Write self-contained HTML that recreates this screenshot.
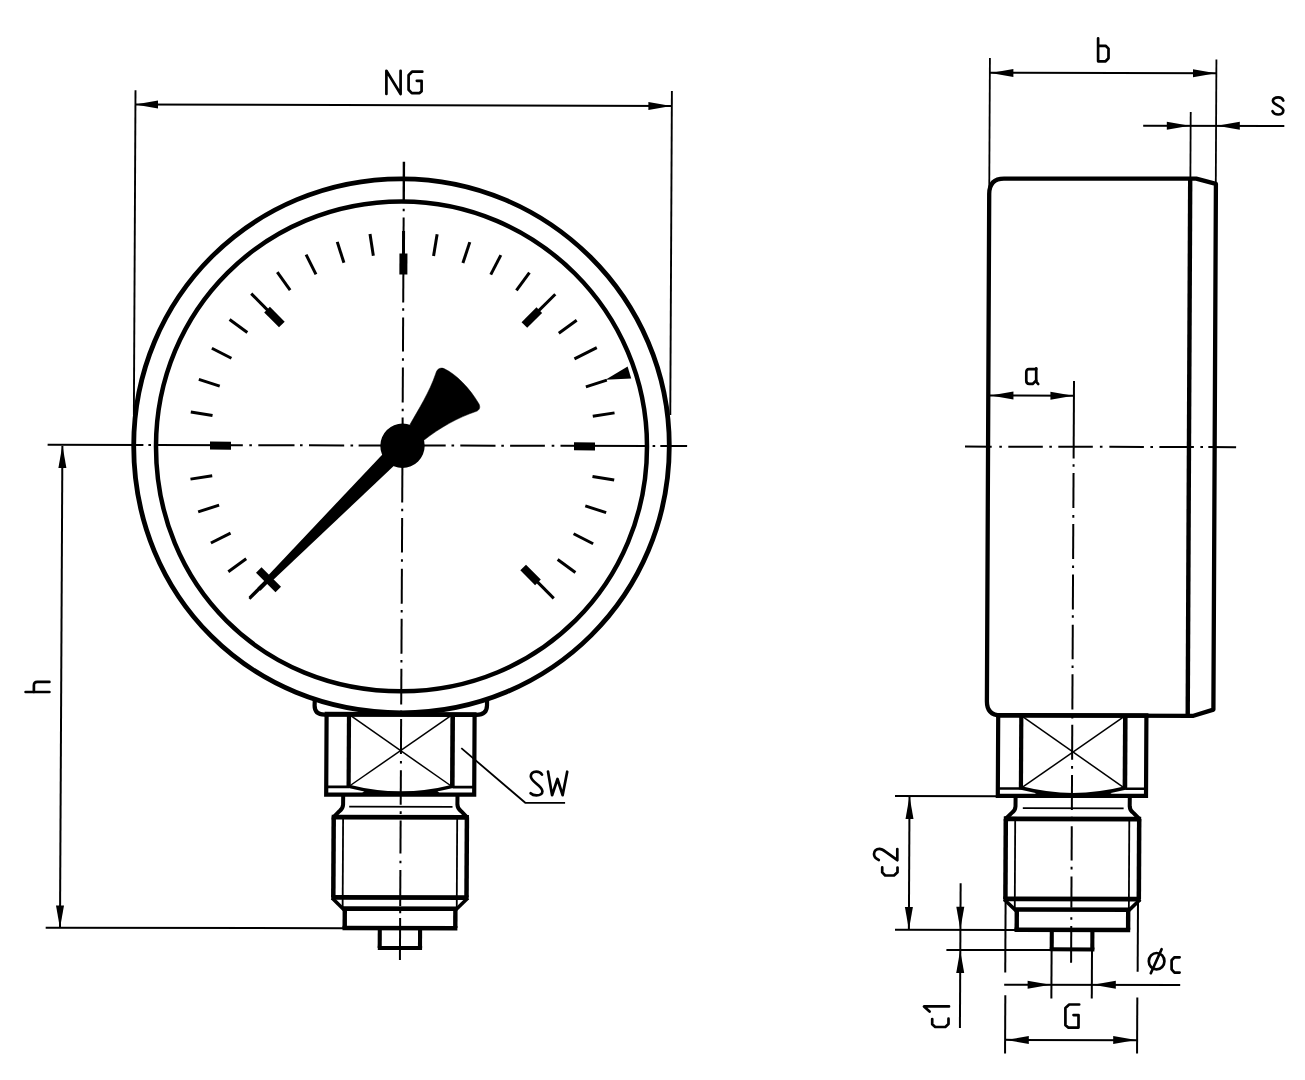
<!DOCTYPE html>
<html><head><meta charset="utf-8"><title>Pressure gauge dimensions</title>
<style>
html,body{margin:0;padding:0;background:#fff;}
body{width:1305px;height:1080px;overflow:hidden;font-family:"Liberation Sans",sans-serif;}
svg{display:block;}
</style></head><body>
<svg width="1305" height="1080" viewBox="0 0 1305 1080">
<rect width="1305" height="1080" fill="#fff"/>
<g transform="matrix(1 0.0020 -0.0050 1 2.230 -0.805)" stroke="#000" fill="none">
<path d="M 669.3,445.27 C 670.04,594.05 552.06,712.5 402.83,712.8 C 251.72,713.1 134.45,597 133.7,446.34 C 132.96,297.93 251.31,179.1 400.16,178.8 C 547.31,178.51 668.57,298.56 669.3,445.27 Z" stroke-width="4.8" fill="none" stroke-linejoin="miter" stroke-linecap="butt"/>
<path d="M 647,445.91 C 647.69,582.87 540.02,691.03 402.73,691.3 C 263.55,691.58 156.7,585.73 156,446.89 C 155.32,310.69 263.74,201.78 400.28,201.5 C 535.11,201.23 646.33,311.41 647,445.91 Z" stroke-width="4.5" fill="none" stroke-linejoin="miter" stroke-linecap="butt"/>
<line x1="47.6" y1="445.5" x2="143.4" y2="445.5" stroke-width="2" stroke-linecap="butt"/>
<line x1="156.5" y1="445.5" x2="242.8" y2="445.5" stroke-width="2" stroke-linecap="butt"/>
<line x1="258.3" y1="445.5" x2="294.5" y2="445.5" stroke-width="2" stroke-linecap="butt"/>
<line x1="309" y1="445.5" x2="344.2" y2="445.5" stroke-width="2" stroke-linecap="butt"/>
<line x1="358.6" y1="445.5" x2="445.7" y2="445.5" stroke-width="2" stroke-linecap="butt"/>
<line x1="460.3" y1="445.5" x2="495.5" y2="445.5" stroke-width="2" stroke-linecap="butt"/>
<line x1="510.1" y1="445.5" x2="544.9" y2="445.5" stroke-width="2" stroke-linecap="butt"/>
<line x1="560.5" y1="445.5" x2="647" y2="445.5" stroke-width="2" stroke-linecap="butt"/>
<line x1="660.3" y1="445.5" x2="687.1" y2="445.5" stroke-width="2" stroke-linecap="butt"/>
<line x1="148.4" y1="445.5" x2="151" y2="445.5" stroke-width="2" stroke-linecap="butt"/>
<line x1="249.3" y1="445.5" x2="251.9" y2="445.5" stroke-width="2" stroke-linecap="butt"/>
<line x1="300" y1="445.5" x2="302.6" y2="445.5" stroke-width="2" stroke-linecap="butt"/>
<line x1="350.5" y1="445.5" x2="353.1" y2="445.5" stroke-width="2" stroke-linecap="butt"/>
<line x1="451.5" y1="445.5" x2="454.1" y2="445.5" stroke-width="2" stroke-linecap="butt"/>
<line x1="501.3" y1="445.5" x2="503.9" y2="445.5" stroke-width="2" stroke-linecap="butt"/>
<line x1="551.7" y1="445.5" x2="554.3" y2="445.5" stroke-width="2" stroke-linecap="butt"/>
<line x1="652.6" y1="445.5" x2="655.2" y2="445.5" stroke-width="2" stroke-linecap="butt"/>
<line x1="402.5" y1="161.8" x2="402.5" y2="202" stroke-width="2.4" stroke-linecap="butt"/>
<line x1="402.5" y1="217.5" x2="402.5" y2="302.5" stroke-width="2" stroke-linecap="butt"/>
<line x1="402.5" y1="317.5" x2="402.5" y2="351.5" stroke-width="2" stroke-linecap="butt"/>
<line x1="402.5" y1="367.5" x2="402.5" y2="402.5" stroke-width="2" stroke-linecap="butt"/>
<line x1="402.5" y1="417.5" x2="402.5" y2="502.5" stroke-width="2" stroke-linecap="butt"/>
<line x1="402.5" y1="518" x2="402.5" y2="552.5" stroke-width="2" stroke-linecap="butt"/>
<line x1="402.5" y1="568.8" x2="402.5" y2="603.8" stroke-width="2" stroke-linecap="butt"/>
<line x1="402.5" y1="618.8" x2="402.5" y2="653.8" stroke-width="2" stroke-linecap="butt"/>
<line x1="402.5" y1="668.8" x2="402.5" y2="704.5" stroke-width="2" stroke-linecap="butt"/>
<line x1="402.5" y1="719" x2="402.5" y2="754" stroke-width="2" stroke-linecap="butt"/>
<line x1="402.5" y1="770.2" x2="402.5" y2="804.8" stroke-width="2" stroke-linecap="butt"/>
<line x1="402.5" y1="820.5" x2="402.5" y2="853.5" stroke-width="2" stroke-linecap="butt"/>
<line x1="402.5" y1="870" x2="402.5" y2="906" stroke-width="2" stroke-linecap="butt"/>
<line x1="402.5" y1="918" x2="402.5" y2="960" stroke-width="2" stroke-linecap="butt"/>
<line x1="402.5" y1="208.7" x2="402.5" y2="211.3" stroke-width="2" stroke-linecap="butt"/>
<line x1="402.5" y1="308.2" x2="402.5" y2="310.8" stroke-width="2" stroke-linecap="butt"/>
<line x1="402.5" y1="358.2" x2="402.5" y2="360.8" stroke-width="2" stroke-linecap="butt"/>
<line x1="402.5" y1="408.7" x2="402.5" y2="411.3" stroke-width="2" stroke-linecap="butt"/>
<line x1="402.5" y1="508.7" x2="402.5" y2="511.3" stroke-width="2" stroke-linecap="butt"/>
<line x1="402.5" y1="559.2" x2="402.5" y2="561.8" stroke-width="2" stroke-linecap="butt"/>
<line x1="402.5" y1="610" x2="402.5" y2="612.6" stroke-width="2" stroke-linecap="butt"/>
<line x1="402.5" y1="660" x2="402.5" y2="662.6" stroke-width="2" stroke-linecap="butt"/>
<line x1="402.5" y1="710.5" x2="402.5" y2="713.1" stroke-width="2" stroke-linecap="butt"/>
<line x1="402.5" y1="761" x2="402.5" y2="763.6" stroke-width="2" stroke-linecap="butt"/>
<line x1="402.5" y1="811.3" x2="402.5" y2="813.9" stroke-width="2" stroke-linecap="butt"/>
<line x1="402.5" y1="860.7" x2="402.5" y2="863.3" stroke-width="2" stroke-linecap="butt"/>
<line x1="402.5" y1="910.7" x2="402.5" y2="913.3" stroke-width="2" stroke-linecap="butt"/>
<line x1="268.15" y1="580.35" x2="250.47" y2="598.03" stroke-width="3" stroke-linecap="butt"/>
<line x1="246.76" y1="559.15" x2="228.97" y2="572.08" stroke-width="3" stroke-linecap="butt"/>
<line x1="230.98" y1="533.39" x2="211.38" y2="543.38" stroke-width="3" stroke-linecap="butt"/>
<line x1="219.42" y1="505.49" x2="198.5" y2="512.28" stroke-width="3" stroke-linecap="butt"/>
<line x1="212.37" y1="476.11" x2="190.64" y2="479.56" stroke-width="3" stroke-linecap="butt"/>
<line x1="231" y1="446" x2="210" y2="446" stroke-width="8" stroke-linecap="butt"/>
<line x1="212.37" y1="415.89" x2="190.64" y2="412.44" stroke-width="3" stroke-linecap="butt"/>
<line x1="219.42" y1="386.51" x2="198.5" y2="379.72" stroke-width="3" stroke-linecap="butt"/>
<line x1="230.98" y1="358.61" x2="211.38" y2="348.62" stroke-width="3" stroke-linecap="butt"/>
<line x1="246.76" y1="332.85" x2="228.97" y2="319.92" stroke-width="3" stroke-linecap="butt"/>
<line x1="281.23" y1="324.73" x2="266.38" y2="309.88" stroke-width="8" stroke-linecap="butt"/>
<line x1="268.15" y1="311.65" x2="250.47" y2="293.97" stroke-width="3" stroke-linecap="butt"/>
<line x1="289.35" y1="290.26" x2="276.42" y2="272.47" stroke-width="3" stroke-linecap="butt"/>
<line x1="315.11" y1="274.48" x2="305.12" y2="254.88" stroke-width="3" stroke-linecap="butt"/>
<line x1="343.01" y1="262.92" x2="336.22" y2="242" stroke-width="3" stroke-linecap="butt"/>
<line x1="372.39" y1="255.87" x2="368.94" y2="234.14" stroke-width="3" stroke-linecap="butt"/>
<line x1="402.5" y1="274.5" x2="402.5" y2="253.5" stroke-width="8" stroke-linecap="butt"/>
<line x1="402.5" y1="256" x2="402.5" y2="231" stroke-width="3" stroke-linecap="butt"/>
<line x1="432.61" y1="255.87" x2="436.06" y2="234.14" stroke-width="3" stroke-linecap="butt"/>
<line x1="461.99" y1="262.92" x2="468.78" y2="242" stroke-width="3" stroke-linecap="butt"/>
<line x1="489.89" y1="274.48" x2="499.88" y2="254.88" stroke-width="3" stroke-linecap="butt"/>
<line x1="515.65" y1="290.26" x2="528.58" y2="272.47" stroke-width="3" stroke-linecap="butt"/>
<line x1="523.77" y1="324.73" x2="538.62" y2="309.88" stroke-width="8" stroke-linecap="butt"/>
<line x1="536.85" y1="311.65" x2="554.53" y2="293.97" stroke-width="3" stroke-linecap="butt"/>
<line x1="558.24" y1="332.85" x2="576.03" y2="319.92" stroke-width="3" stroke-linecap="butt"/>
<line x1="574.02" y1="358.61" x2="596.29" y2="347.26" stroke-width="3" stroke-linecap="butt"/>
<line x1="585.58" y1="386.51" x2="606.5" y2="379.72" stroke-width="3" stroke-linecap="butt"/>
<line x1="592.63" y1="415.89" x2="614.36" y2="412.44" stroke-width="3" stroke-linecap="butt"/>
<line x1="574" y1="446" x2="595" y2="446" stroke-width="8" stroke-linecap="butt"/>
<line x1="592.63" y1="476.11" x2="614.36" y2="479.56" stroke-width="3" stroke-linecap="butt"/>
<line x1="585.58" y1="505.49" x2="606.5" y2="512.28" stroke-width="3" stroke-linecap="butt"/>
<line x1="574.02" y1="533.39" x2="593.62" y2="543.38" stroke-width="3" stroke-linecap="butt"/>
<line x1="558.24" y1="559.15" x2="576.03" y2="572.08" stroke-width="3" stroke-linecap="butt"/>
<line x1="523.77" y1="567.27" x2="538.62" y2="582.12" stroke-width="8" stroke-linecap="butt"/>
<line x1="536.85" y1="580.35" x2="554.53" y2="598.03" stroke-width="3" stroke-linecap="butt"/>
<polygon points="605.17,379.39 627.2,366.05 630.86,378.14" fill="#000" stroke="none"/>
<circle cx="402.5" cy="445.8" r="22.2" stroke="none" fill="#000"/>
<polygon points="389.49,446.96 401.43,458.81 274.05,579.98 269.22,575.19" fill="#000" stroke="none"/>
<line x1="259.37" y1="570.33" x2="278.98" y2="589.8" stroke-width="7.8" stroke-linecap="butt"/>
<line x1="272.34" y1="576.88" x2="259.67" y2="589.63" stroke-width="4.2" stroke-linecap="butt"/>
<line x1="261.78" y1="587.5" x2="250.18" y2="599.19" stroke-width="2.6" stroke-linecap="butt"/>
<path d="M 409.89,424.49 C 418.32,409.47 429.23,391.95 435.24,373.93 C 436.42,369.43 439.11,366.93 443.61,368.52 C 455.64,373.89 469.71,388.37 478.79,403.85 C 480.41,407.34 479.32,409.85 476.33,411.15 C 457.86,417.39 439.91,427.43 423.47,440.46 Z" stroke-width="0.5" fill="#000" stroke-linejoin="miter" stroke-linecap="butt"/>
<line x1="133.72" y1="90.73" x2="133.72" y2="415.53" stroke-width="1.9" stroke-linecap="butt"/>
<line x1="670.12" y1="90.46" x2="670.12" y2="414.46" stroke-width="1.9" stroke-linecap="butt"/>
<line x1="133.29" y1="104.94" x2="669.8" y2="105.46" stroke-width="2" stroke-linecap="butt"/>
<polygon points="133.49,104.93 156.27,100.89 156.31,108.89" fill="#000" stroke="none"/>
<polygon points="669.5,105.46 646.72,109.51 646.68,101.51" fill="#000" stroke="none"/>
<line x1="62.4" y1="446.68" x2="62.4" y2="928.68" stroke-width="2" stroke-linecap="butt"/>
<polygon points="62.4,445.88 66.51,468.67 58.51,468.69" fill="#000" stroke="none"/>
<polygon points="62.41,928.88 58.3,906.09 66.3,906.08" fill="#000" stroke="none"/>
<line x1="48.11" y1="928.4" x2="347.41" y2="928.4" stroke-width="2" stroke-linecap="butt"/>
<path d="M 316.07,699.68 L 315.9,705.68 Q 315.94,714.78 325.84,714.76 L 477.84,714.65 Q 488.24,714.63 488.3,705.33 L 488.37,699.33" stroke-width="4.2" fill="none" stroke-linejoin="round" stroke-linecap="butt"/>
<path d="M 327.94,714.35 L 327.94,794.75 L 475.94,794.46 L 475.94,714.06" stroke-width="4.2" fill="none" stroke-linejoin="miter" stroke-linecap="butt"/>
<line x1="325.94" y1="714.2" x2="477.94" y2="714.2" stroke-width="4.4" stroke-linecap="butt"/>
<line x1="350.34" y1="714.31" x2="350.31" y2="788.11" stroke-width="4.2" stroke-linecap="butt"/>
<line x1="454.04" y1="714.1" x2="454.01" y2="787.9" stroke-width="4.6" stroke-linecap="butt"/>
<line x1="328.31" y1="787" x2="350.7" y2="787" stroke-width="2.6" stroke-linecap="butt"/>
<line x1="454.4" y1="787" x2="476.31" y2="787" stroke-width="2.6" stroke-linecap="butt"/>
<path d="M 350.7,786.51 Q 402.37,799.6 454.4,786.3" stroke-width="3.4" fill="none" stroke-linejoin="miter" stroke-linecap="butt"/>
<path d="M 366.72,790.68 Q 402.36,797.2 438.42,790.53 L 442.44,794.52 L 362.74,794.68 Z" stroke-width="0.5" fill="#000" stroke-linejoin="miter" stroke-linecap="butt"/>
<line x1="351.35" y1="715.31" x2="452.9" y2="785.9" stroke-width="1.5" stroke-linecap="butt"/>
<line x1="453.05" y1="715.1" x2="351.2" y2="786.11" stroke-width="1.5" stroke-linecap="butt"/>
<path d="M 462.81,747.98 L 527.08,802.55 L 566.88,802.47" stroke-width="1.8" fill="none" stroke-linejoin="miter" stroke-linecap="butt"/>
<path d="M 344.94,794.72 L 344.89,804.82 Q 344.71,809.12 341.23,811.33 L 334.76,817.94" stroke-width="4" fill="none" stroke-linejoin="round" stroke-linecap="butt"/>
<path d="M 459.24,794.49 L 459.19,804.59 Q 459.42,808.89 462.93,811.08 L 469.36,817.67" stroke-width="4" fill="none" stroke-linejoin="round" stroke-linecap="butt"/>
<line x1="351" y1="806.7" x2="454.3" y2="806.7" stroke-width="1.8" stroke-linecap="butt"/>
<line x1="333.56" y1="817.2" x2="470.76" y2="817.2" stroke-width="4.8" stroke-linecap="butt"/>
<line x1="335.56" y1="817.34" x2="335.56" y2="897.64" stroke-width="4.5" stroke-linecap="butt"/>
<line x1="468.76" y1="817.07" x2="468.76" y2="897.37" stroke-width="4.5" stroke-linecap="butt"/>
<line x1="344.96" y1="817.32" x2="344.96" y2="908.82" stroke-width="1.8" stroke-linecap="butt"/>
<line x1="459.06" y1="817.09" x2="459.06" y2="908.59" stroke-width="1.8" stroke-linecap="butt"/>
<line x1="333.56" y1="897.5" x2="470.76" y2="897.5" stroke-width="4.8" stroke-linecap="butt"/>
<line x1="334.36" y1="898.14" x2="346.32" y2="909.82" stroke-width="3.6" stroke-linecap="butt"/>
<line x1="470.16" y1="897.87" x2="458.12" y2="909.59" stroke-width="3.6" stroke-linecap="butt"/>
<line x1="345.11" y1="908.7" x2="459.31" y2="908.7" stroke-width="4.6" stroke-linecap="butt"/>
<line x1="347.11" y1="908.82" x2="347.11" y2="928.22" stroke-width="4.4" stroke-linecap="butt"/>
<line x1="457.71" y1="908.59" x2="457.71" y2="927.99" stroke-width="4.4" stroke-linecap="butt"/>
<line x1="344.91" y1="928.1" x2="459.81" y2="928.1" stroke-width="4.5" stroke-linecap="butt"/>
<line x1="382.21" y1="928.15" x2="382.21" y2="948.05" stroke-width="4.1" stroke-linecap="butt"/>
<line x1="422.51" y1="928.06" x2="422.51" y2="947.97" stroke-width="4.1" stroke-linecap="butt"/>
<line x1="380.31" y1="948" x2="424.61" y2="948" stroke-width="4" stroke-linecap="butt"/>
<path d="M 1194.86,177.11 L 1002.66,177.5 Q 987.96,177.53 987.94,192.83 L 988.18,700.33 Q 988.25,714.03 1001.85,714.1 L 1194.85,714.22 L 1214.72,707.98 L 1214.59,182.27 Z" stroke-width="4.3" fill="none" stroke-linejoin="round" stroke-linecap="butt"/>
<line x1="1188.86" y1="177.12" x2="1189.05" y2="714.23" stroke-width="4.4" stroke-linecap="butt"/>
<line x1="965" y1="445.46" x2="991.7" y2="445.46" stroke-width="2" stroke-linecap="butt"/>
<line x1="1008.3" y1="445.46" x2="1042.8" y2="445.46" stroke-width="2" stroke-linecap="butt"/>
<line x1="1058.3" y1="445.46" x2="1092.8" y2="445.46" stroke-width="2" stroke-linecap="butt"/>
<line x1="1109.4" y1="445.46" x2="1143.9" y2="445.46" stroke-width="2" stroke-linecap="butt"/>
<line x1="1159.4" y1="445.46" x2="1193.9" y2="445.46" stroke-width="2" stroke-linecap="butt"/>
<line x1="1208.3" y1="445.46" x2="1236.1" y2="445.46" stroke-width="2" stroke-linecap="butt"/>
<line x1="999.3" y1="445.46" x2="1001.9" y2="445.46" stroke-width="2" stroke-linecap="butt"/>
<line x1="1049.3" y1="445.46" x2="1051.9" y2="445.46" stroke-width="2" stroke-linecap="butt"/>
<line x1="1099.9" y1="445.46" x2="1102.5" y2="445.46" stroke-width="2" stroke-linecap="butt"/>
<line x1="1150.4" y1="445.46" x2="1153" y2="445.46" stroke-width="2" stroke-linecap="butt"/>
<line x1="1200.4" y1="445.46" x2="1203" y2="445.46" stroke-width="2" stroke-linecap="butt"/>
<line x1="1073.67" y1="379.66" x2="1073.67" y2="457.16" stroke-width="2" stroke-linecap="butt"/>
<line x1="1073.67" y1="471.76" x2="1073.67" y2="506.56" stroke-width="2" stroke-linecap="butt"/>
<line x1="1073.67" y1="522.66" x2="1073.67" y2="557.76" stroke-width="2" stroke-linecap="butt"/>
<line x1="1073.67" y1="573.06" x2="1073.67" y2="608.16" stroke-width="2" stroke-linecap="butt"/>
<line x1="1073.67" y1="623.36" x2="1073.67" y2="657.86" stroke-width="2" stroke-linecap="butt"/>
<line x1="1073.67" y1="672.96" x2="1073.67" y2="708.16" stroke-width="2" stroke-linecap="butt"/>
<line x1="1073.67" y1="723.36" x2="1073.67" y2="758.46" stroke-width="2" stroke-linecap="butt"/>
<line x1="1073.67" y1="773.66" x2="1073.67" y2="808.66" stroke-width="2" stroke-linecap="butt"/>
<line x1="1073.67" y1="824.96" x2="1073.67" y2="859.16" stroke-width="2" stroke-linecap="butt"/>
<line x1="1073.67" y1="875.06" x2="1073.67" y2="906.46" stroke-width="2" stroke-linecap="butt"/>
<line x1="1073.67" y1="924.66" x2="1073.67" y2="961.36" stroke-width="2" stroke-linecap="butt"/>
<line x1="1073.67" y1="462.86" x2="1073.67" y2="465.46" stroke-width="2" stroke-linecap="butt"/>
<line x1="1073.67" y1="513.76" x2="1073.67" y2="516.36" stroke-width="2" stroke-linecap="butt"/>
<line x1="1073.67" y1="564.16" x2="1073.67" y2="566.76" stroke-width="2" stroke-linecap="butt"/>
<line x1="1073.67" y1="613.86" x2="1073.67" y2="616.46" stroke-width="2" stroke-linecap="butt"/>
<line x1="1073.67" y1="664.06" x2="1073.67" y2="666.66" stroke-width="2" stroke-linecap="butt"/>
<line x1="1073.67" y1="714.66" x2="1073.67" y2="717.26" stroke-width="2" stroke-linecap="butt"/>
<line x1="1073.67" y1="764.76" x2="1073.67" y2="767.36" stroke-width="2" stroke-linecap="butt"/>
<line x1="1073.67" y1="815.36" x2="1073.67" y2="817.96" stroke-width="2" stroke-linecap="butt"/>
<line x1="1073.67" y1="865.46" x2="1073.67" y2="868.06" stroke-width="2" stroke-linecap="butt"/>
<line x1="1073.67" y1="915.86" x2="1073.67" y2="918.46" stroke-width="2" stroke-linecap="butt"/>
<line x1="987.97" y1="56.83" x2="987.97" y2="186.83" stroke-width="1.8" stroke-linecap="butt"/>
<line x1="1214.47" y1="57.77" x2="1214.47" y2="184.37" stroke-width="1.8" stroke-linecap="butt"/>
<line x1="988.13" y1="71.61" x2="1214.13" y2="71.61" stroke-width="2" stroke-linecap="butt"/>
<polygon points="988.74,71.82 1011.51,67.78 1011.55,75.78" fill="#000" stroke="none"/>
<polygon points="1213.94,71.57 1191.16,75.62 1191.12,67.62" fill="#000" stroke="none"/>
<line x1="1189.03" y1="110.42" x2="1189.03" y2="178.42" stroke-width="1.8" stroke-linecap="butt"/>
<line x1="1141.6" y1="124.2" x2="1282.7" y2="124.2" stroke-width="2" stroke-linecap="butt"/>
<polygon points="1188,124.23 1165.22,128.27 1165.18,120.27" fill="#000" stroke="none"/>
<polygon points="1215.4,124.17 1238.18,120.13 1238.22,128.13" fill="#000" stroke="none"/>
<line x1="989.75" y1="394.35" x2="1073.75" y2="394.35" stroke-width="2" stroke-linecap="butt"/>
<polygon points="990.35,394.32 1013.13,390.28 1013.17,398.28" fill="#000" stroke="none"/>
<polygon points="1072.95,394.36 1050.17,398.4 1050.13,390.4" fill="#000" stroke="none"/>
<path d="M 999.55,714.21 L 999.55,794.61 L 1147.75,794.31 L 1147.75,713.91" stroke-width="4.2" fill="none" stroke-linejoin="miter" stroke-linecap="butt"/>
<line x1="997.55" y1="714.06" x2="1149.75" y2="714.06" stroke-width="4.4" stroke-linecap="butt"/>
<line x1="1022.65" y1="714.16" x2="1022.62" y2="788.36" stroke-width="4.2" stroke-linecap="butt"/>
<line x1="1126.65" y1="713.95" x2="1126.62" y2="788.16" stroke-width="4.6" stroke-linecap="butt"/>
<line x1="999.91" y1="787.26" x2="1023.01" y2="787.26" stroke-width="2.6" stroke-linecap="butt"/>
<line x1="1127.01" y1="787.26" x2="1148.11" y2="787.26" stroke-width="2.6" stroke-linecap="butt"/>
<path d="M 1023.01,786.76 Q 1074.38,799.86 1127.01,786.55" stroke-width="3.4" fill="none" stroke-linejoin="miter" stroke-linecap="butt"/>
<path d="M 1039.03,790.93 Q 1074.36,797.46 1111.03,790.79 L 1115.05,794.38 L 1035.05,794.54 Z" stroke-width="0.5" fill="#000" stroke-linejoin="miter" stroke-linecap="butt"/>
<line x1="1023.65" y1="715.16" x2="1125.51" y2="786.16" stroke-width="1.5" stroke-linecap="butt"/>
<line x1="1125.65" y1="714.96" x2="1023.51" y2="786.36" stroke-width="1.5" stroke-linecap="butt"/>
<path d="M 1017.35,794.57 L 1017.3,805.17 Q 1017.12,809.47 1013.63,811.68 L 1006.87,818.29" stroke-width="4" fill="none" stroke-linejoin="round" stroke-linecap="butt"/>
<path d="M 1131.55,794.35 L 1131.5,804.95 Q 1131.72,809.25 1135.23,811.44 L 1141.67,818.03" stroke-width="4" fill="none" stroke-linejoin="round" stroke-linecap="butt"/>
<line x1="1024.61" y1="806.86" x2="1125.41" y2="806.86" stroke-width="1.8" stroke-linecap="butt"/>
<line x1="1005.66" y1="817.56" x2="1143.06" y2="817.56" stroke-width="4.8" stroke-linecap="butt"/>
<line x1="1007.66" y1="817.69" x2="1007.66" y2="897.79" stroke-width="4.5" stroke-linecap="butt"/>
<line x1="1141.06" y1="817.43" x2="1141.07" y2="897.53" stroke-width="4.5" stroke-linecap="butt"/>
<line x1="1017.06" y1="817.67" x2="1017.07" y2="908.38" stroke-width="1.8" stroke-linecap="butt"/>
<line x1="1131.16" y1="817.45" x2="1131.17" y2="908.15" stroke-width="1.8" stroke-linecap="butt"/>
<line x1="1005.66" y1="897.66" x2="1143.07" y2="897.66" stroke-width="4.8" stroke-linecap="butt"/>
<line x1="1006.47" y1="898.3" x2="1018.32" y2="909.37" stroke-width="3.6" stroke-linecap="butt"/>
<line x1="1142.47" y1="898.02" x2="1130.92" y2="909.15" stroke-width="3.6" stroke-linecap="butt"/>
<line x1="1017.12" y1="908.26" x2="1132.12" y2="908.26" stroke-width="4.6" stroke-linecap="butt"/>
<line x1="1019.12" y1="908.37" x2="1019.12" y2="928.57" stroke-width="4.4" stroke-linecap="butt"/>
<line x1="1130.52" y1="908.15" x2="1130.52" y2="928.35" stroke-width="4.4" stroke-linecap="butt"/>
<line x1="1016.92" y1="928.46" x2="1132.62" y2="928.46" stroke-width="4.5" stroke-linecap="butt"/>
<line x1="1054.22" y1="928.5" x2="1054.22" y2="948.1" stroke-width="4.1" stroke-linecap="butt"/>
<line x1="1094.82" y1="928.42" x2="1094.82" y2="948.02" stroke-width="4.1" stroke-linecap="butt"/>
<line x1="1052.32" y1="948.06" x2="1096.92" y2="948.06" stroke-width="4" stroke-linecap="butt"/>
<line x1="896.75" y1="795" x2="999.75" y2="795" stroke-width="2" stroke-linecap="butt"/>
<line x1="897.42" y1="928.8" x2="1018.42" y2="928.8" stroke-width="2" stroke-linecap="butt"/>
<line x1="911.27" y1="794.99" x2="911.27" y2="928.99" stroke-width="2" stroke-linecap="butt"/>
<polygon points="911.25,795.19 915.37,817.98 907.37,817.99" fill="#000" stroke="none"/>
<polygon points="911.32,928.79 907.2,906 915.2,905.98" fill="#000" stroke="none"/>
<line x1="962.82" y1="882.08" x2="962.82" y2="1026.88" stroke-width="2" stroke-linecap="butt"/>
<polygon points="962.72,928.48 958.6,905.69 966.6,905.68" fill="#000" stroke="none"/>
<polygon points="962.72,949.08 966.84,971.88 958.84,971.89" fill="#000" stroke="none"/>
<line x1="948.92" y1="948.8" x2="1054.52" y2="948.8" stroke-width="2" stroke-linecap="butt"/>
<line x1="1007.87" y1="898.79" x2="1007.87" y2="971.39" stroke-width="2" stroke-linecap="butt"/>
<line x1="1008.07" y1="993.99" x2="1008.07" y2="1052.39" stroke-width="2" stroke-linecap="butt"/>
<line x1="1140.27" y1="898.53" x2="1140.27" y2="970.33" stroke-width="2" stroke-linecap="butt"/>
<line x1="1140.07" y1="996.13" x2="1140.07" y2="1052.13" stroke-width="2" stroke-linecap="butt"/>
<line x1="1054.12" y1="947.7" x2="1054.12" y2="997.1" stroke-width="2" stroke-linecap="butt"/>
<line x1="1094.52" y1="947.62" x2="1094.52" y2="997.02" stroke-width="2" stroke-linecap="butt"/>
<line x1="1006.89" y1="983.42" x2="1182.89" y2="983.42" stroke-width="2" stroke-linecap="butt"/>
<polygon points="1053.09,983.5 1030.31,987.55 1030.27,979.55" fill="#000" stroke="none"/>
<polygon points="1095.69,983.42 1118.47,979.37 1118.51,987.37" fill="#000" stroke="none"/>
<line x1="1008.27" y1="1038.66" x2="1140.47" y2="1038.66" stroke-width="2" stroke-linecap="butt"/>
<polygon points="1008.97,1038.79 1031.75,1034.75 1031.79,1042.75" fill="#000" stroke="none"/>
<polygon points="1138.97,1038.53 1116.19,1042.58 1116.15,1034.58" fill="#000" stroke="none"/>
<path d="M 384.64,94.03 L 384.52,70.83 L 398.84,94 L 398.72,70.8" stroke-width="2.7" fill="none" stroke-linejoin="round" stroke-linecap="round"/>
<path d="M 420.43,71.66 L 410.13,71.68 L 406.75,75.19 L 406.82,89.79 L 410.04,93.08 L 417.84,93.07 L 419.83,91.16 L 419.77,80.76 L 414.97,80.77" stroke-width="2.7" fill="none" stroke-linejoin="round" stroke-linecap="round"/>
<path d="M 26.83,692.75 L 50.63,692.71" stroke-width="2.7" fill="none" stroke-linejoin="round" stroke-linecap="round"/>
<path d="M 35.13,692.74 L 35.1,685.94 Q 35.08,682.64 38.38,682.63 L 50.58,682.61" stroke-width="2.7" fill="none" stroke-linejoin="round" stroke-linecap="round"/>
<path d="M 543.64,774.32 C 542.13,771.92 540.13,771.33 537.93,771.33 C 534.13,771.34 532.44,773.54 532.45,776.04 C 532.46,778.74 534.17,780.24 538.19,783.43 C 542.2,786.52 544.11,788.52 544.13,790.92 C 544.14,793.52 542.05,795.12 538.25,795.13 C 535.75,795.14 533.74,794.34 532.34,792.94" stroke-width="2.7" fill="none" stroke-linejoin="round" stroke-linecap="round"/>
<path d="M 549.63,771.21 L 553.85,794.9 L 559.16,778.69 L 564.35,794.88 L 568.83,771.37" stroke-width="2.7" fill="none" stroke-linejoin="round" stroke-linecap="round"/>
<path d="M 1096.06,36.91 L 1096.18,59.91 L 1103.68,59.89 L 1106.56,56.89 L 1106.51,47.19 L 1103.6,44.39 L 1096.1,44.41" stroke-width="2.7" fill="none" stroke-linejoin="round" stroke-linecap="round"/>
<path d="M 1281.57,98.84 C 1280.76,96.64 1279.06,95.64 1276.46,95.65 C 1273.06,95.66 1271.16,96.86 1271.17,99.06 C 1271.19,101.26 1272.89,102.26 1276.3,103.85 C 1279.91,105.54 1281.61,106.64 1281.62,108.84 C 1281.64,111.44 1279.74,112.74 1276.54,112.75 C 1273.74,112.75 1271.84,111.66 1270.83,109.46" stroke-width="2.7" fill="none" stroke-linejoin="round" stroke-linecap="round"/>
<path d="M 1035.82,367.83 L 1028.62,367.85 Q 1025.92,367.85 1025.93,370.95 L 1025.97,379.55 Q 1025.99,382.65 1028.89,382.65 L 1032.29,382.64 L 1035.87,379.33" stroke-width="2.7" fill="none" stroke-linejoin="round" stroke-linecap="round"/>
<path d="M 1035.81,367.13 L 1035.88,380.33 L 1037.89,382.73" stroke-width="2.7" fill="none" stroke-linejoin="round" stroke-linecap="round"/>
<path d="M 884.31,866.44 L 884.33,871.44 L 887.35,874.53 L 896.15,874.52 L 899.63,871.21 L 899.61,866.61" stroke-width="2.7" fill="none" stroke-linejoin="round" stroke-linecap="round"/>
<path d="M 880.87,859.05 C 877.66,857.65 876.05,855.66 876.04,853.06 C 876.02,849.66 878.21,847.95 881.41,847.95 C 883.61,847.94 885.42,849.04 887.83,850.83 L 899.37,859.21 L 899.31,848.01" stroke-width="2.7" fill="none" stroke-linejoin="round" stroke-linecap="round"/>
<path d="M 935.07,1017.94 L 935.09,1023.14 L 938.11,1025.93 L 948.2,1025.91 L 951.39,1022.91 L 951.36,1017.61" stroke-width="2.7" fill="none" stroke-linejoin="round" stroke-linecap="round"/>
<path d="M 932.43,1010.55 L 926.8,1005.36 L 951.8,1005.31" stroke-width="2.7" fill="none" stroke-linejoin="round" stroke-linecap="round"/>
<ellipse cx="1159.18" cy="959.69" rx="7.8" ry="8.2" stroke-width="2.7" fill="none"/>
<path d="M 1164.12,947.68 L 1153.44,971.7" stroke-width="2.7" fill="none" stroke-linejoin="round" stroke-linecap="round"/>
<path d="M 1182.16,955.75 L 1177.06,955.76 L 1174.17,958.66 L 1174.22,967.76 L 1177.13,971.06 L 1182.23,971.05" stroke-width="2.7" fill="none" stroke-linejoin="round" stroke-linecap="round"/>
<path d="M 1081.99,1003.15 L 1071.99,1003.17 L 1068.21,1006.57 L 1068.3,1023.97 L 1071.31,1026.27 L 1081.41,1026.25 L 1081.35,1013.75 L 1076.35,1013.76" stroke-width="2.7" fill="none" stroke-linejoin="round" stroke-linecap="round"/>
</g>
</svg>
</body></html>
